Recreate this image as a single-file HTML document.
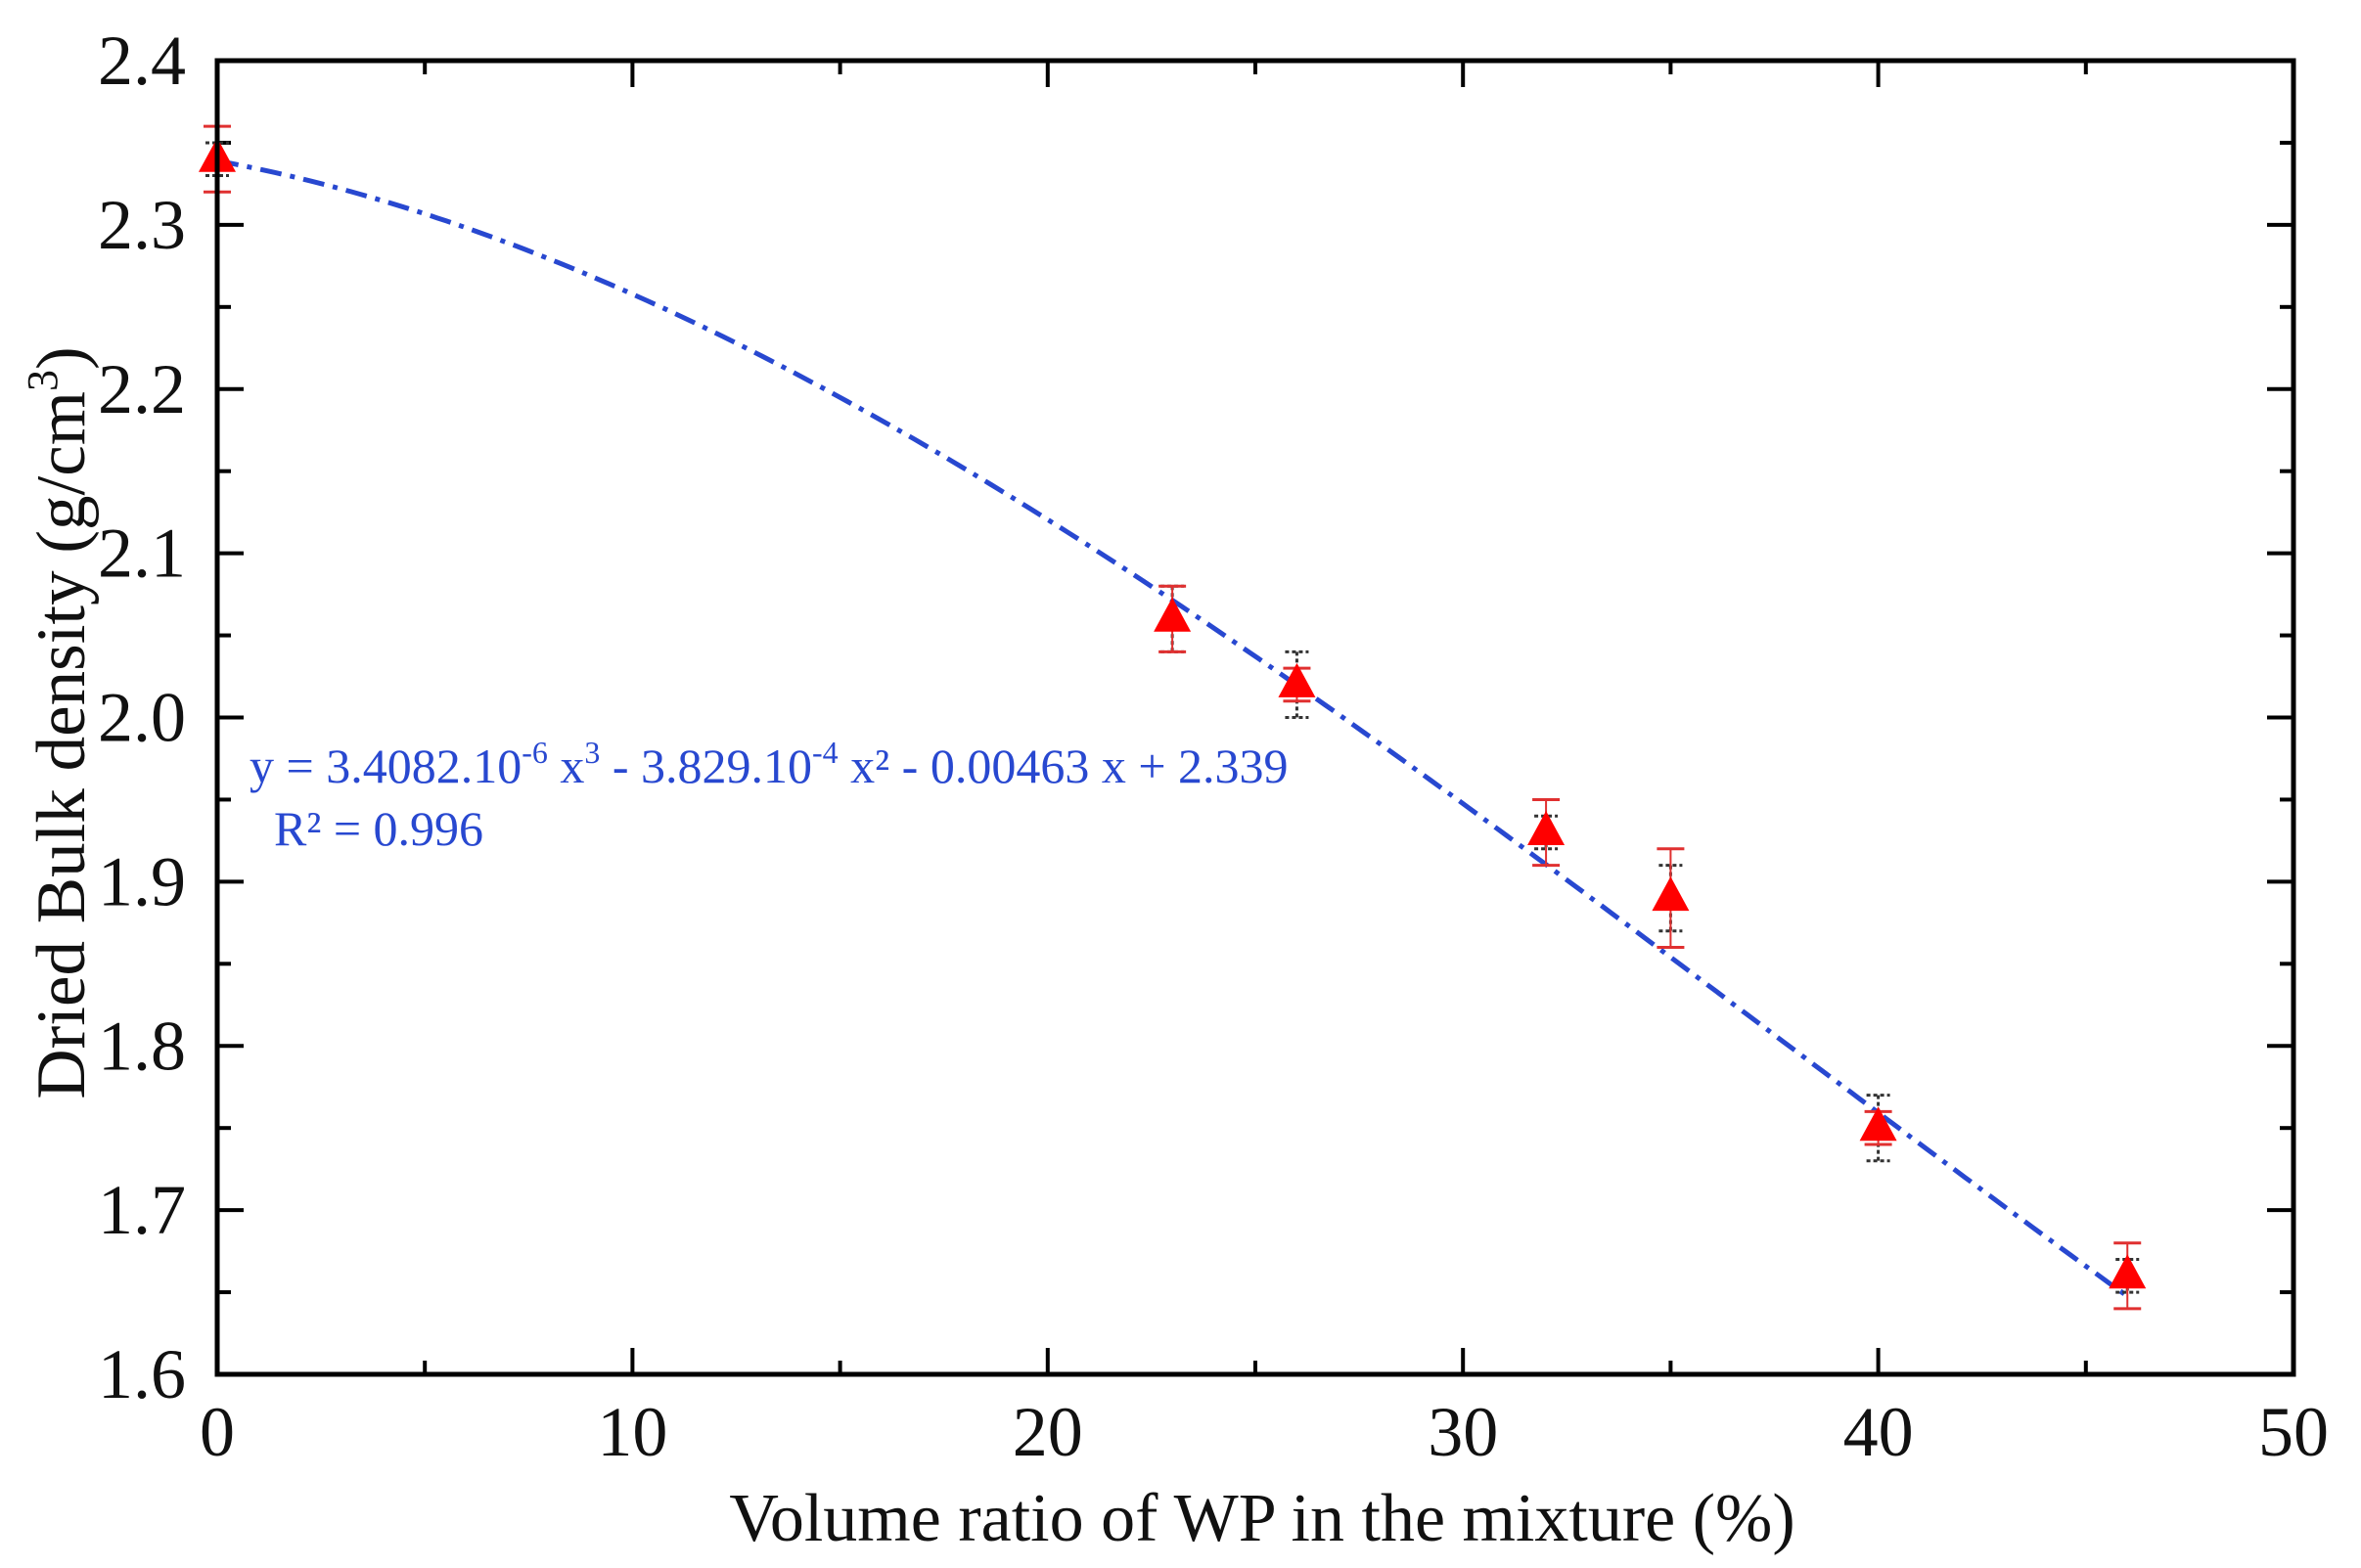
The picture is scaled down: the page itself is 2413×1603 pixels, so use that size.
<!DOCTYPE html>
<html><head><meta charset="utf-8"><style>
html,body{margin:0;padding:0;background:#fff;}
svg{display:block;font-family:"Liberation Serif",serif;}
</style></head><body>
<svg id="chart" width="2413" height="1603" viewBox="0 0 2413 1603" xmlns="http://www.w3.org/2000/svg">
<g id="ticks"></g>
<path id="fit" fill="none" stroke="#2848d0" stroke-width="5" stroke-dasharray="22 9 5 9"></path>
<g id="errs"></g>
<g id="pts"></g>
<rect x="222" y="62" width="2122" height="1343" fill="none" stroke="#000" stroke-width="5"></rect>
<g id="labels" font-size="72" fill="#111"></g>
<text x="1290" y="1575" font-size="70" text-anchor="middle" fill="#111">Volume ratio of WP in the mixture (%)</text>
<text transform="translate(86,739) rotate(-90)" font-size="71" text-anchor="middle" fill="#111">Dried  Bulk density (g/cm<tspan font-size="44" dy="-28">3</tspan><tspan dy="28">)</tspan></text>
<text x="255" y="800" font-size="50" fill="#2848d0">y = 3.4082.10<tspan font-size="32" dy="-20">-6</tspan><tspan dy="20"> x</tspan><tspan font-size="32" dy="-20">3</tspan><tspan dy="20"> - 3.829.10</tspan><tspan font-size="32" dy="-20">-4</tspan><tspan dy="20"> x² - 0.00463 x + 2.339</tspan></text>
<text x="280" y="864" font-size="50" fill="#2848d0">R² = 0.996</text>
</svg>
<script>
const xData = [0, 23, 26, 32, 35, 40, 46];
const yData = [2.34, 2.06, 2.02, 1.93, 1.89, 1.75, 1.66];
const redErr = [0.02, 0.02, 0.01, 0.02, 0.03, 0.01, 0.02];
const blackErr = [0.01, 0.02, 0.02, 0.01, 0.02, 0.02, 0.01];
const xTicks = [0, 10, 20, 30, 40, 50];
const yTicks = [1.6, 1.7, 1.8, 1.9, 2.0, 2.1, 2.2, 2.3, 2.4];
const fitCoef = [2.339, -0.00463, -3.829e-4, 3.4082e-6];
const fitRange = [0, 46];

const L=222,R=2344,T=62,B=1405;
const sx=v=>L+(v-0)/(50-0)*(R-L);
const sy=v=>B-(v-1.6)/(2.4-1.6)*(B-T);
const NS='http://www.w3.org/2000/svg';
function mk(tag,parent,attrs){const e=document.createElementNS(NS,tag);for(const k in attrs)e.setAttribute(k,attrs[k]);parent.appendChild(e);return e;}

const ticks=document.getElementById('ticks'), labels=document.getElementById('labels');
xTicks.forEach((t,i)=>{
  const x=sx(t);
  let l=mk('line',ticks,{x1:x,x2:x,y1:B,y2:B-27,stroke:'#000','stroke-width':4});
  
  
  l=mk('line',ticks,{x1:x,x2:x,y1:T,y2:T+27,stroke:'#000','stroke-width':4});
  
  
  if(i<xTicks.length-1){const m=sx(t+5);
    l=mk('line',ticks,{x1:m,x2:m,y1:B,y2:B-14,stroke:'#000','stroke-width':4});
    
    
    l=mk('line',ticks,{x1:m,x2:m,y1:T,y2:T+14,stroke:'#000','stroke-width':4});
    
    }
  const tx=mk('text',labels,{x:x,y:1488,'text-anchor':'middle'});tx.textContent=String(t);
  
  
});
yTicks.forEach((t,i)=>{
  const y=sy(t);
  let l=mk('line',ticks,{x1:L,x2:L+27,y1:y,y2:y,stroke:'#000','stroke-width':4});
  
  
  l=mk('line',ticks,{x1:R,x2:R-27,y1:y,y2:y,stroke:'#000','stroke-width':4});
  
  
  if(i<yTicks.length-1){const m=sy(t+0.05);
    l=mk('line',ticks,{x1:L,x2:L+14,y1:m,y2:m,stroke:'#000','stroke-width':4});
    
    
    l=mk('line',ticks,{x1:R,x2:R-14,y1:m,y2:m,stroke:'#000','stroke-width':4});
    
    }
  const tx=mk('text',labels,{x:190,y:y+24,'text-anchor':'end'});tx.textContent=t.toFixed(1);
  
  
});

let d='';
for(let i=0;i<=200;i++){const x=fitRange[0]+(fitRange[1]-fitRange[0])*i/200;
  const y=fitCoef[0]+fitCoef[1]*x+fitCoef[2]*x*x+fitCoef[3]*x*x*x;
  d+=(i?'L':'M')+sx(x).toFixed(1)+' '+sy(y).toFixed(1);}
document.getElementById('fit').setAttribute('d',d);

const errs=document.getElementById('errs'), pts=document.getElementById('pts');
xData.forEach((xv,i)=>{
  const x=sx(xv), y=sy(yData[i]);
  const g=mk('g',errs,{});
  
  
  const yb1=sy(yData[i]+blackErr[i]), yb2=sy(yData[i]-blackErr[i]);
  mk('line',g,{x1:x,x2:x,y1:yb1,y2:yb2,stroke:'#333','stroke-width':3,'stroke-dasharray':'4 3'});
  mk('line',g,{x1:x-12,x2:x+12,y1:yb1,y2:yb1,stroke:'#333','stroke-width':3,'stroke-dasharray':'4 3'});
  mk('line',g,{x1:x-12,x2:x+12,y1:yb2,y2:yb2,stroke:'#333','stroke-width':3,'stroke-dasharray':'4 3'});
  const yr1=sy(yData[i]+redErr[i]), yr2=sy(yData[i]-redErr[i]);
  mk('line',g,{x1:x,x2:x,y1:yr1,y2:yr2,stroke:'#e03030','stroke-width':2});
  mk('line',g,{x1:x-14,x2:x+14,y1:yr1,y2:yr1,stroke:'#e03030','stroke-width':3});
  mk('line',g,{x1:x-14,x2:x+14,y1:yr2,y2:yr2,stroke:'#e03030','stroke-width':3});
  const p=mk('polygon',pts,{points:`${x},${y-22} ${x-19},${y+13} ${x+19},${y+13}`,fill:'#ff0000'});
  
  
});
</script>
</body></html>
